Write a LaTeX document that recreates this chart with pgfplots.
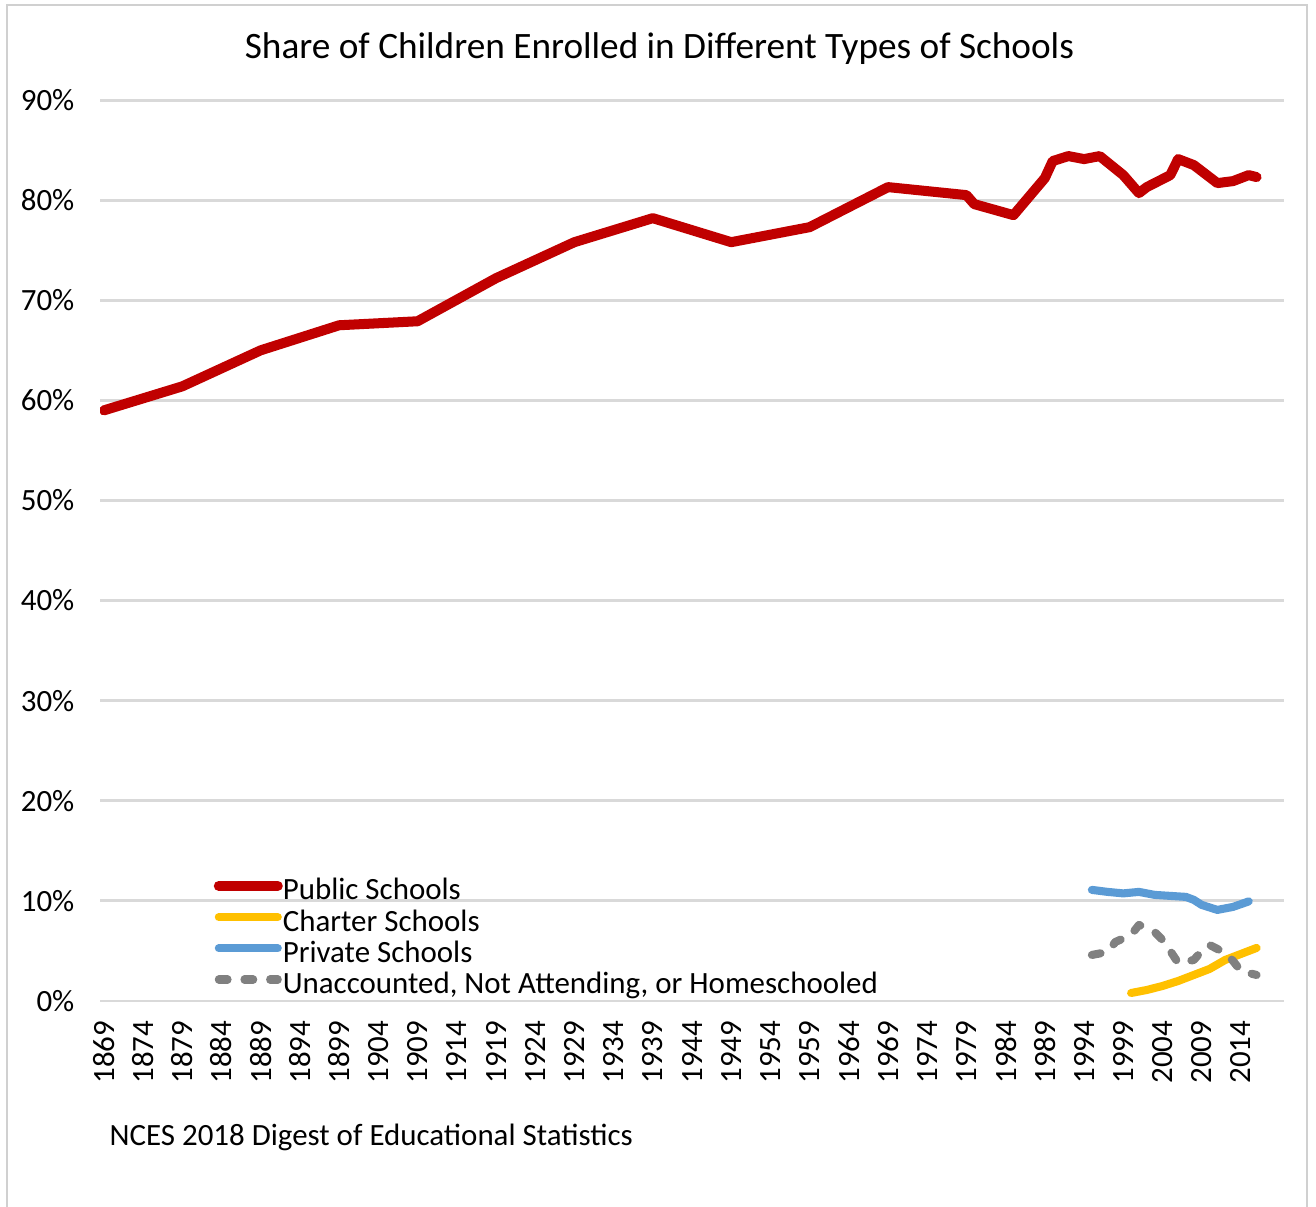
\documentclass[border=0pt]{standalone}
\usepackage{fontspec}
\setmainfont{Carlito}
\usepackage{pgfplots}
\pgfplotsset{compat=1.18}

\definecolor{publicred}{HTML}{C00000}
\definecolor{charteryellow}{HTML}{FFC000}
\definecolor{privateblue}{HTML}{5B9BD5}
\definecolor{othergray}{HTML}{808080}
\definecolor{gridgray}{HTML}{D9D9D9}
\definecolor{framegray}{HTML}{D0D0D0}

% Share of children (percent) by year
\pgfplotstableread{
year share
1869 59.0
1879 61.4
1889 65.0
1899 67.5
1909 67.9
1919 72.2
1929 75.8
1939 78.2
1949 75.8
1959 77.3
1969 81.3
1979 80.5
1980 79.6
1985 78.5
1989 82.2
1990 83.9
1992 84.4
1994 84.1
1996 84.4
1999 82.5
2001 80.7
2002 81.3
2005 82.5
2006 84.1
2008 83.5
2009 82.9
2011 81.7
2013 81.9
2015 82.5
2016 82.3
}\publicdata

\pgfplotstableread{
year share
2000 0.8
2002 1.1
2004 1.5
2006 2.0
2008 2.6
2010 3.2
2012 4.1
2014 4.7
2016 5.3
}\charterdata

\pgfplotstableread{
year share
1995 11.1
1997 10.9
1999 10.75
2001 10.9
2003 10.6
2005 10.5
2007 10.4
2008 10.1
2009 9.6
2011 9.1
2013 9.4
2015 9.95
}\privatedata

\pgfplotstableread{
year share
1995 4.6
1997 4.9
1998 5.9
2000 6.6
2001 7.6
2003 6.9
2004 6.1
2005 5.0
2006 3.8
2008 4.1
2009 5.0
2010 5.6
2012 4.8
2013 4.0
2014 3.0
2016 2.6
}\otherdata

\begin{document}
\begin{tikzpicture}
\path[use as bounding box] (0,0) rectangle (131.6mm,-120.7mm);
% chart frame
\draw[framegray, line width=0.6pt] (0.7mm,-120.7mm) -- (0.7mm,-0.5mm) -- (130.7mm,-0.5mm) -- (130.7mm,-120.7mm);

\node[anchor=base, font=\fontsize{10.6}{13}\selectfont] at (65.95mm,-5.9mm)
  {Share of Children Enrolled in Different Types of Schools};
\node[anchor=base west, font=\fontsize{8.8}{10}\selectfont, inner sep=0pt] at (10.9mm,-114.5mm)
  {NCES 2018 Digest of Educational Statistics};

\begin{axis}[
  at={(10mm,-100.1mm)}, anchor=south west,
  scale only axis, width=118.4mm, height=90.1mm,
  xmin=1868.5, xmax=2019.5, ymin=0, ymax=90,
  axis line style={draw=none},
  tick style={draw=none},
  ytick={0,10,...,90},
  yticklabel={\pgfmathprintnumber{\tick}\%},
  ymajorgrids,
  grid style={draw=gridgray, line width=0.85pt},
  xtick={1869,1874,...,2014},
  /pgf/number format/assume math mode=true,
  /pgf/number format/1000 sep={},
  ticklabel style={font=\fontsize{8.8}{10}\selectfont, inner sep=0pt},
  xticklabel style={rotate=90, anchor=east},
  yticklabel style={anchor=east},
  xticklabel shift=1.9mm,
  yticklabel shift=2.5mm,
  legend cell align=left,
  legend style={at={(0.0955,0.1375)}, anchor=north west, draw=none, fill=none,
    inner sep=0pt, row sep=0pt,
    nodes={inner sep=0pt, text height=2.2mm, text depth=0.92mm,
      font=\fontsize{8.8}{10}\selectfont}},
  legend image code/.code={\draw[#1] (0mm,0.75mm) -- (5.9mm,0.75mm);},
  every axis plot/.append style={line cap=round, line join=round},
]
\addplot[publicred, line width=2.85pt] table[x=year, y=share] {\publicdata};
\addlegendentry{Public Schools}
\addplot[charteryellow, line width=2.3pt] table[x=year, y=share] {\charterdata};
\addlegendentry{Charter Schools}
\addplot[privateblue, line width=2.3pt] table[x=year, y=share] {\privatedata};
\addlegendentry{Private Schools}
\addplot[othergray, line width=2.3pt, dash pattern=on 2.5pt off 4.8pt] table[x=year, y=share] {\otherdata};
\addlegendentry{Unaccounted, Not Attending, or Homeschooled}
\end{axis}
\end{tikzpicture}
\end{document}
